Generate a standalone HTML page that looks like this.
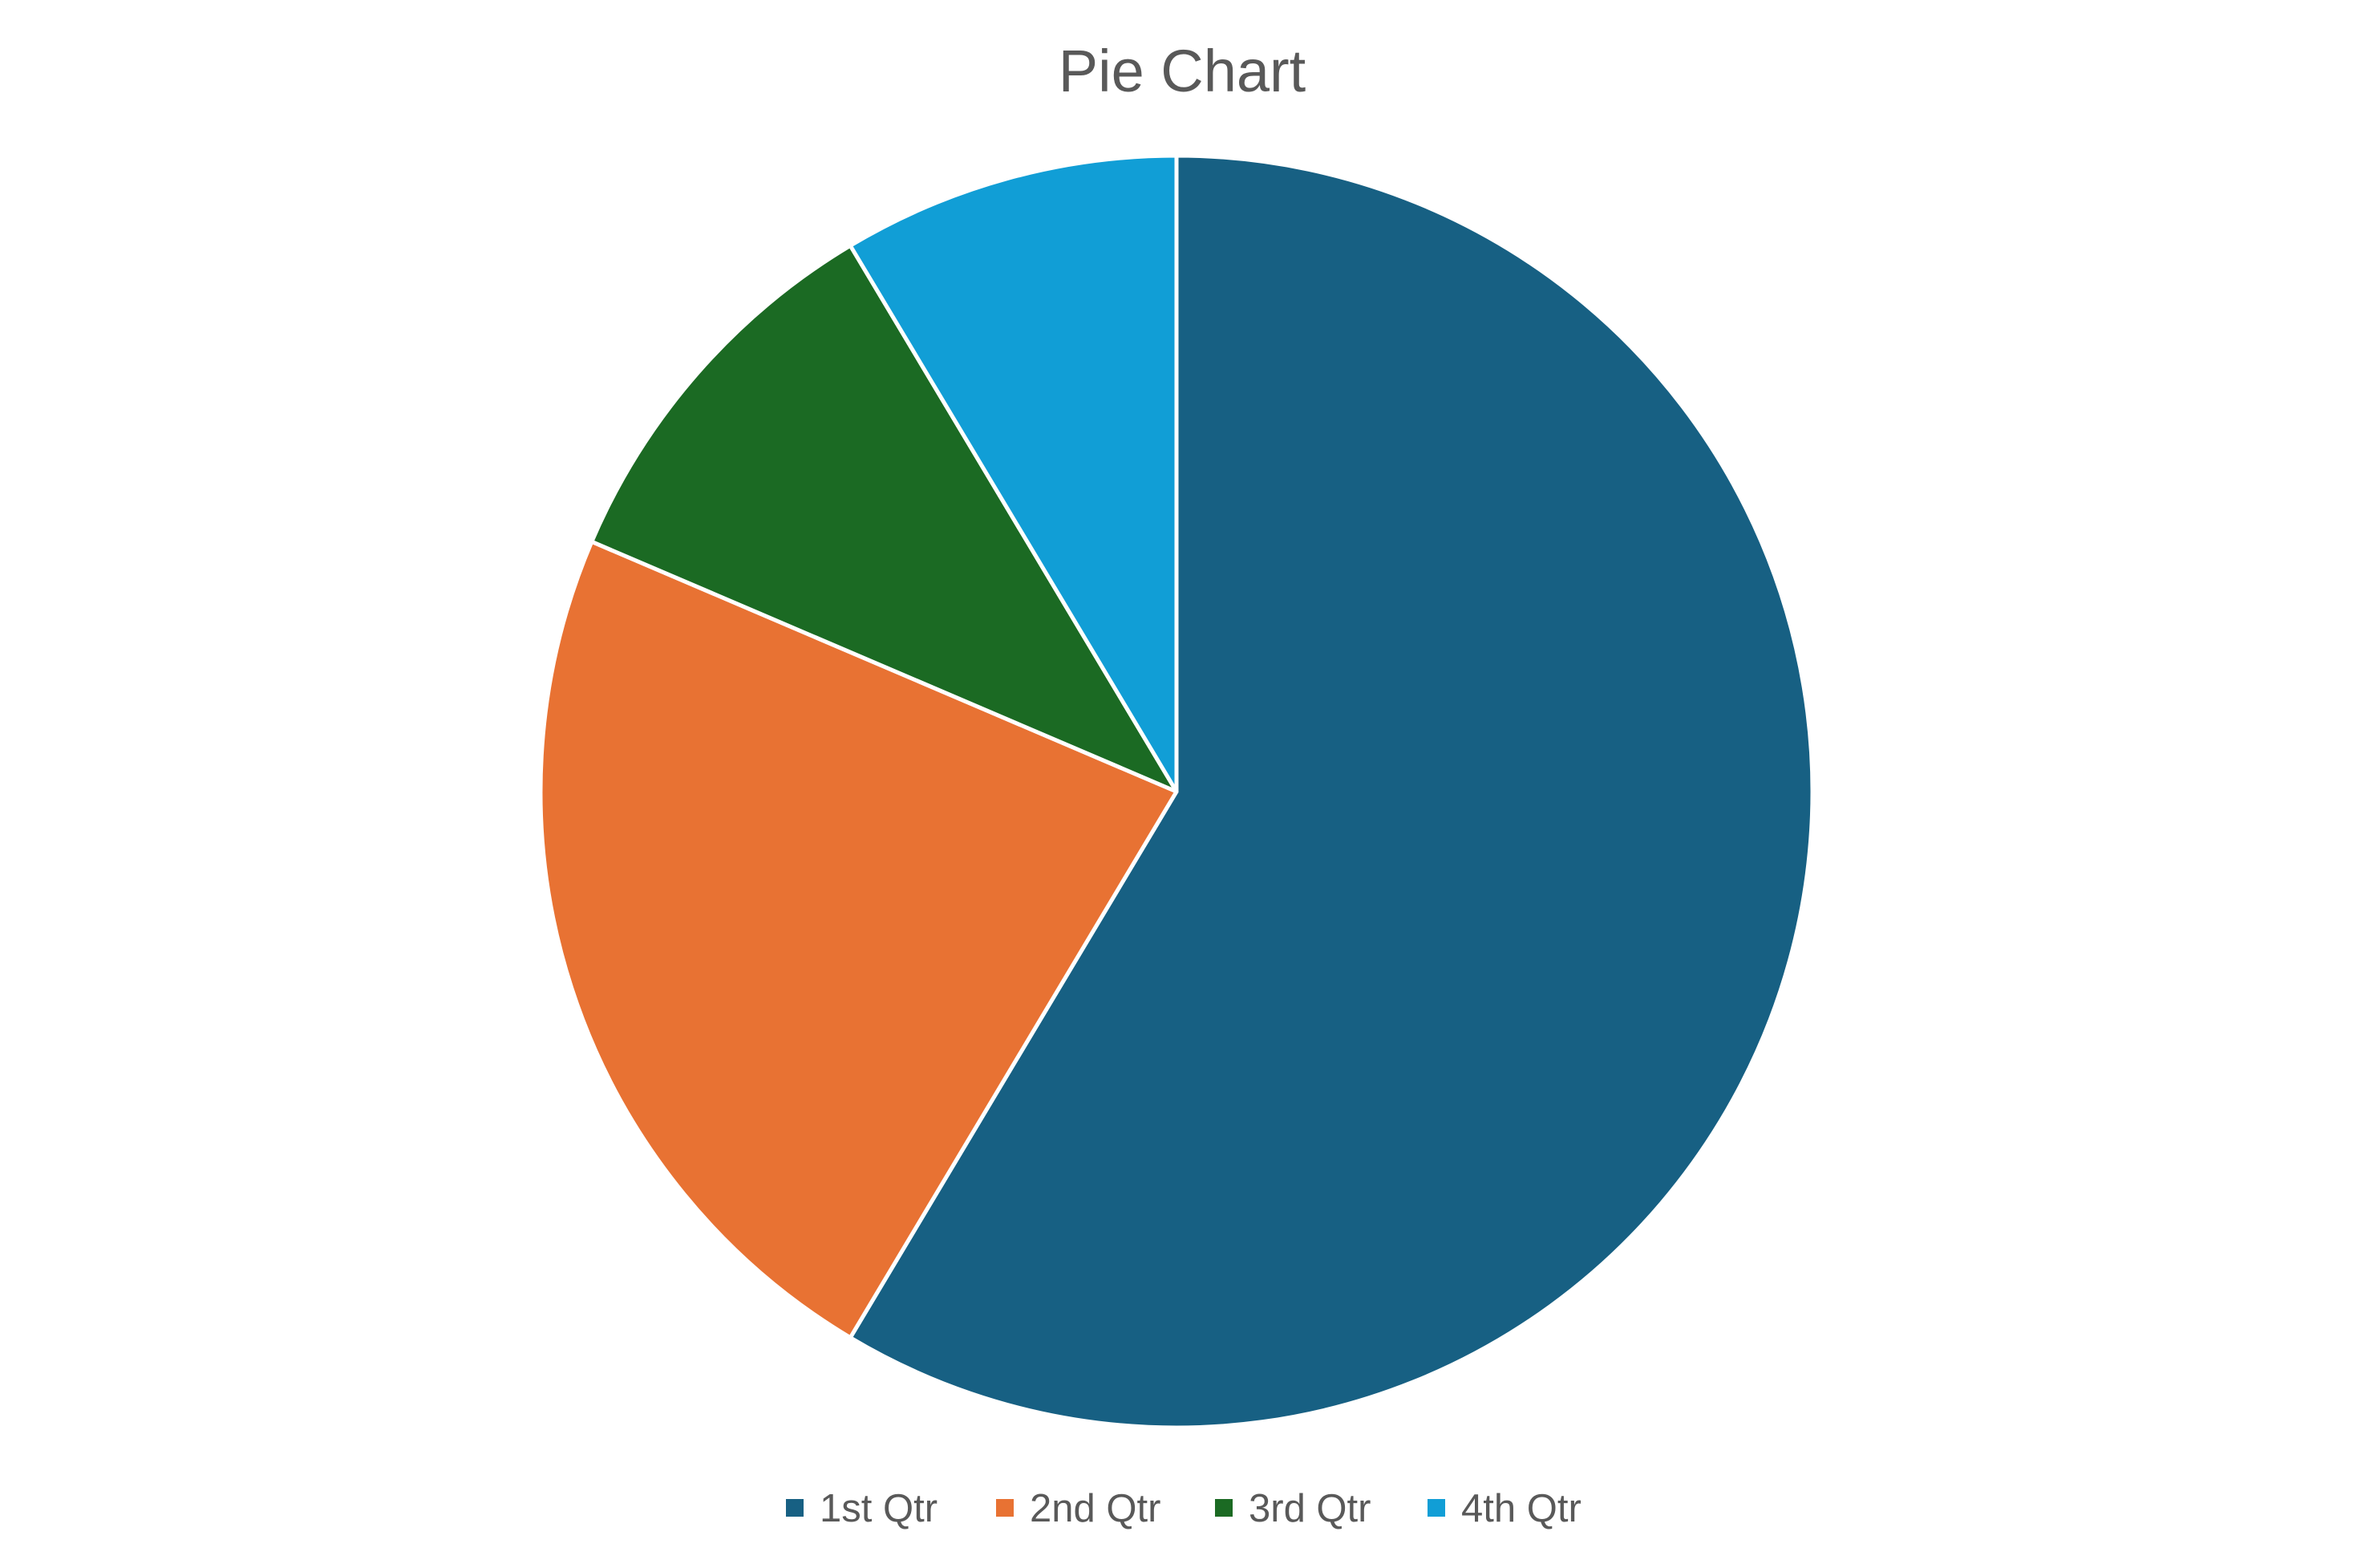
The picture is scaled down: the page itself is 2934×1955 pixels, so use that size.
<!DOCTYPE html>
<html><head><meta charset="utf-8"><style>
html,body{margin:0;padding:0;background:#fff;}
svg{display:block;font-family:"Liberation Sans","DejaVu Sans",sans-serif;}
</style></head><body>
<svg id="chart" width="2934" height="1955" viewBox="0 0 2934 1955">
<text x="1474" y="114" text-anchor="middle" font-size="74" fill="#595959">Pie Chart</text>
<g id="slices"></g>
<g id="legend"></g>
</svg>
<script>
const categories = ["1st Qtr","2nd Qtr","3rd Qtr","4th Qtr"];
const values = [8.2, 3.2, 1.4, 1.2];
const colors = ["#176083","#E87233","#1B6A23","#119ED6"];
const NS = "http://www.w3.org/2000/svg";
const cx = 1467, cy = 987, r = 793;
const total = values.reduce((a,b)=>a+b,0);
const sg = document.getElementById('slices');
let a0 = 0;
function pt(a){return [cx + r*Math.sin(a), cy - r*Math.cos(a)];}
values.forEach((v,i)=>{
  const a1 = a0 + v/total*2*Math.PI;
  const p0 = pt(a0), p1 = pt(a1);
  const large = (a1-a0) > Math.PI ? 1 : 0;
  const p = document.createElementNS(NS,'path');
  p.setAttribute('d',`M${cx},${cy} L${p0[0]},${p0[1]} A${r},${r} 0 ${large} 1 ${p1[0]},${p1[1]} Z`);
  p.setAttribute('fill',colors[i]);
  p.setAttribute('stroke','#fff');
  p.setAttribute('stroke-width','5');
  p.setAttribute('stroke-linejoin','round');
  
  
  sg.appendChild(p);
  a0 = a1;
});
const lg = document.getElementById('legend');
const lx = [980, 1242, 1515, 1780];
categories.forEach((c,i)=>{
  const g = document.createElementNS(NS,'g');
  
  
  const s = document.createElementNS(NS,'rect');
  s.setAttribute('x', lx[i]); s.setAttribute('y', 1869);
  s.setAttribute('width', 22); s.setAttribute('height', 22);
  s.setAttribute('fill', colors[i]);
  
  
  const t = document.createElementNS(NS,'text');
  t.setAttribute('x', lx[i]+42); t.setAttribute('y', 1897);
  t.setAttribute('font-size', '49'); t.setAttribute('fill', '#595959');
  t.textContent = c;
  
  
  g.appendChild(s); g.appendChild(t); lg.appendChild(g);
});
</script>
</body></html>
